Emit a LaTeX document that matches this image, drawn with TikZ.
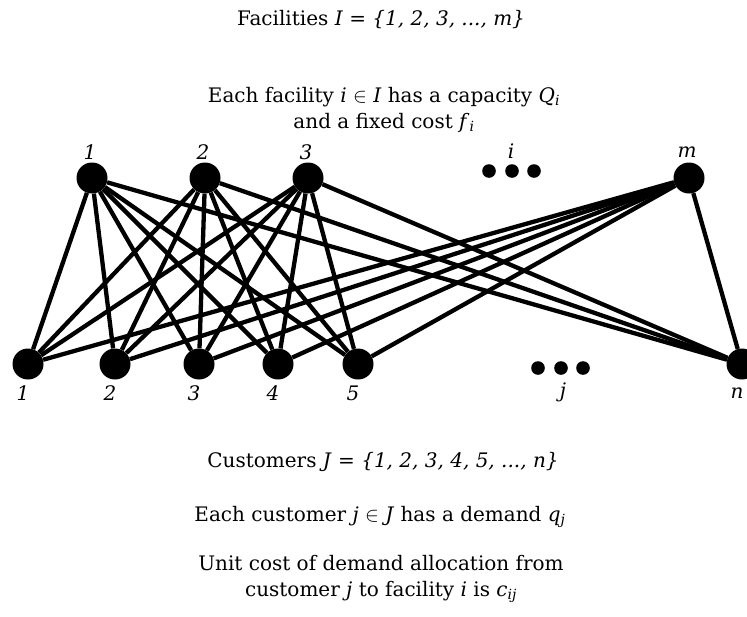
\documentclass[tikz,border=0pt]{standalone}
\usepackage{fontspec}
\setmainfont{DejaVu Serif}
\usetikzlibrary{positioning}

\begin{document}
\begin{tikzpicture}[x=1pt,y=-1pt,
    every node/.style={font=\fontsize{20}{26}\selectfont},
    vertex/.style={circle,fill=black,inner sep=0pt,minimum size=31pt},
    tag/.style={font=\fontsize{20}{26}\selectfont\itshape},
    edge/.style={line width=4.3pt}]
    \useasboundingbox (0,0) rectangle (747,616);
    % facilities on top
    \foreach \name/\x/\t in {f1/92/1,f2/205/2,f3/308/3,fm/689/m}
    {
      \node[vertex] (\name) at (\x,178) {};
      \node[tag] (\name l) at (\x-2,152) {\t};
    }
    % customers below
    \foreach \name/\x/\t in {c1/28/1,c2/115/2,c3/199/3,c4/278/4,c5/358/5,cn/742/n}
    {
      \node[vertex] (\name) at (\x,364) {};
      \node[tag] (\name l) at (\x-5,393) {\t};
    }
    \foreach \f in {f1,f2,f3,fm}
    {
      \foreach \c in {c1,c2,c3,c4,c5,cn}
      {
        \draw[edge] (\f) -- (\c);
      }
    }
    \foreach \x in {489,512,534}
      \fill (\x,171) circle (6.8);
    \foreach \x in {538,561,583}
      \fill (\x,368) circle (6.8);
    \node[tag] (il) at (511,151) {i};
    \node[tag] (jl) at (563,392) {j};
    % texts
    \node (title1) at (381,20) {Facilities \textit{I} = \textit{\{1, 2, 3, ..., m\}}};
    \node[align=center] (cap) at (384,110)
      {Each facility \textit{i} $\in$ \textit{I} has a capacity \textit{Q}\textsubscript{\textit{i}}\\
       and a fixed cost \textit{f}\textsubscript{\textit{i}}};
    \node (title2) at (383,462) {Customers \textit{J} = \textit{\{1, 2, 3, 4, 5, ..., n\}}};
    \node (dem) at (380,517) {Each customer \textit{j} $\in$ \textit{J} has a demand \textit{q}\textsubscript{\textit{j}}};
    \node[align=center] (unit) at (381,579)
      {Unit cost of demand allocation from\\
       customer \textit{j} to facility \textit{i} is \textit{c}\textsubscript{\textit{ij}}};
\end{tikzpicture}
\end{document}
